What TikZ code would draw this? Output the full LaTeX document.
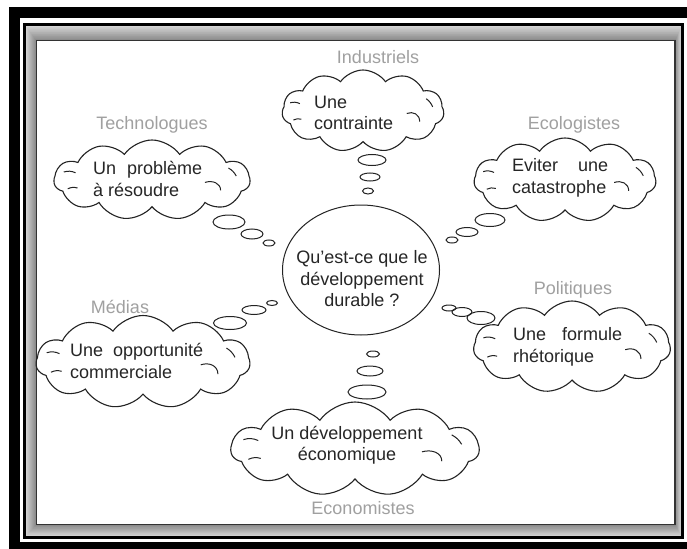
\documentclass[tikz,border=0pt]{standalone}
\usepackage{fontspec}
\setmainfont{Liberation Sans}
\usetikzlibrary{shapes.symbols,shapes.geometric}
\definecolor{gris}{RGB}{160,160,160}
\definecolor{trait}{RGB}{35,35,35}

\begin{document}
\begin{tikzpicture}[x=1pt,y=-1pt,
  bulle/.style={cloud, cloud puffs=11, cloud puff arc=110, cloud ignores aspect, draw=trait, line width=1.1pt, inner sep=0pt},
  rond/.style={ellipse, draw=trait, line width=1pt, inner sep=0pt},
  texte/.style={font=\fontsize{18}{21.5}\selectfont, text=black!85, align=left, inner sep=0pt},
  groupe/.style={font=\fontsize{18}{21.5}\selectfont, text=gris, inner sep=0pt}]
  \useasboundingbox (0,0) rectangle (687,548);
  % le cadre
  \draw[line width=11pt] (14.5,13) rectangle (692,547.5);
  \foreach \k in {0,...,20}{
    \pgfmathsetmacro\t{\k/20}
    \pgfmathsetmacro\c{15+30*\t}
    \draw[black!\c, line width=1.5pt] (26+10*\t,26+14*\t) rectangle (681-6*\t,536-11*\t);}
  \draw[line width=3pt] (24.5,24.5) rectangle (682.5,537.5);
  \draw[black!80, line width=1.5pt] (36.5,40.5) rectangle (675,524.5);
  \fill[white] (37.25,41.25) rectangle (674.25,523.75);
  % les nuages
  \foreach \cx/\cy/\lx/\ly/\nom in {363/111/162/82/ind, 152/180/196/80/tec, 565/180/182/84/eco,
      143/362/214/93/med, 572/347/197/92/pol, 355/449/248/94/econ}{
    \node[bulle, minimum width=\lx pt, minimum height=\ly pt] (\nom) at (\cx,\cy) {};
    \draw[trait, line width=1pt] (\cx-0.45*\lx,\cy-0.1*\ly) to[bend left=20] (\cx-0.39*\lx,\cy-0.09*\ly);
    \draw[trait, line width=1pt] (\cx-0.43*\lx,\cy+0.11*\ly) to[bend left=20] (\cx-0.38*\lx,\cy+0.1*\ly);
    \draw[trait, line width=1pt] (\cx+0.27*\lx,\cy+0.03*\ly) .. controls (\cx+0.31*\lx,\cy) and (\cx+0.35*\lx,\cy+0.04*\ly) .. (\cx+0.35*\lx,\cy+0.13*\ly);
    \draw[trait, line width=1pt] (\cx+0.39*\lx,\cy-0.15*\ly) to[bend left=15] (\cx+0.43*\lx,\cy-0.05*\ly);}
  % les petites bulles
  \foreach \bx/\by/\bl/\bh/\nom in {372/160/28/11/ind1, 370/177/20/8/ind2, 368/191/11/6/ind3,
      229/222/32/14/tec1, 252/234/22/10/tec2, 269/243/12/6/tec3,
      490/220/30/13/eco1, 467/232/22/9/eco2, 452/240/12/6/eco3,
      230/323/33/13/med1, 254/310/24/9/med2, 272/303/11/5/med3,
      481/318/28/13/pol1, 462/312/20/9/pol2, 449/308/14/6/pol3,
      367/392/38/14/econ1, 370/371/26/10/econ2, 373/354/13/6/econ3}{
    \node[rond, minimum width=\bl pt, minimum height=\bh pt] (\nom) at (\bx,\by) {};}
  % au centre
  \node[rond, minimum width=157pt, minimum height=130pt] (centre) at (361,270) {};
  \node[texte, align=center] (question) at (362,279) {Qu'est-ce que le\\développement\\durable ?};
  % les textes
  \node[texte, anchor=west] (t-ind) at (314,113) {Une\\contrainte};
  \node[texte, anchor=west] (t-tec) at (93,179) {\makebox[109pt][s]{Un problème}\\à résoudre};
  \node[texte, anchor=west] (t-eco) at (512,178) {\makebox[96pt][s]{Eviter une}\\catastrophe};
  \node[texte, anchor=west] (t-med) at (70,361) {\makebox[133pt][s]{Une opportunité}\\commerciale};
  \node[texte, anchor=west] (t-pol) at (513,347) {\makebox[109pt][s]{Une formule}\\rhétorique};
  \node[texte, align=center] (t-econ) at (347,445) {Un développement\\économique};
  % les acteurs
  \node[groupe] (g-ind) at (378,57) {Industriels};
  \node[groupe] (g-tec) at (152,125) {Technologues};
  \node[groupe] (g-eco) at (574,125) {Ecologistes};
  \node[groupe] (g-med) at (120,307) {Médias};
  \node[groupe] (g-pol) at (573,290) {Politiques};
  \node[groupe] (g-econ) at (363,508) {Economistes};
\end{tikzpicture}
\end{document}
